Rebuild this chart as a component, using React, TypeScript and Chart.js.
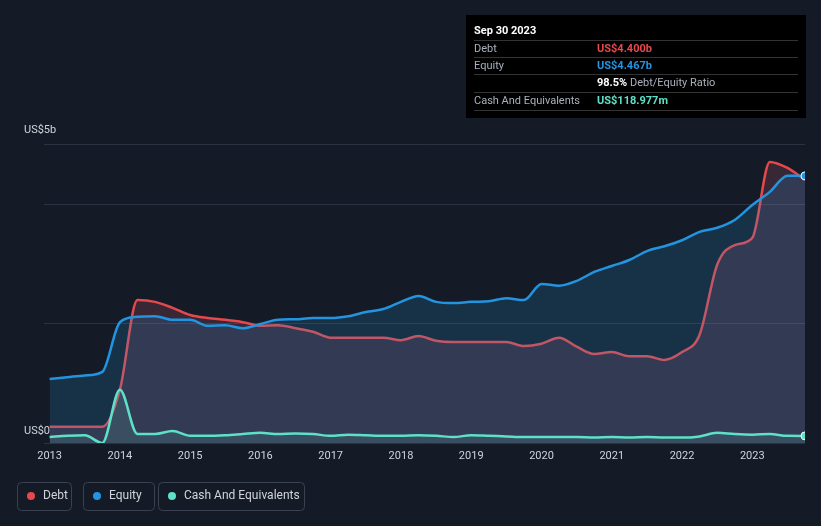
import React, { useEffect, useRef } from "react";
import { Chart, registerables } from "chart.js";
Chart.register(...registerables);

const quarters: number[] = Array.from({ length: 44 }, (_, i) => 2013 + i * 0.25);
const debt = [0.27,0.27,0.27,0.27,0.89,2.39,2.36,2.26,2.14,2.09,2.06,2.02,1.96,1.97,1.92,1.86,1.76,1.76,1.76,1.76,1.72,1.79,1.71,1.69,1.69,1.69,1.69,1.62,1.66,1.76,1.61,1.49,1.52,1.45,1.45,1.39,1.52,1.81,2.98,3.31,3.43,4.70,4.60,4.40];
const equity = [1.07,1.1,1.13,1.19,2.02,2.11,2.12,2.06,2.06,1.96,1.97,1.92,1.99,2.06,2.07,2.09,2.09,2.12,2.19,2.24,2.36,2.46,2.36,2.34,2.36,2.37,2.42,2.39,2.66,2.63,2.71,2.86,2.96,3.06,3.21,3.29,3.39,3.53,3.60,3.73,3.98,4.20,4.47,4.467];
const cash = [0.1,0.12,0.13,0.0,0.89,0.15,0.15,0.2,0.12,0.12,0.13,0.15,0.17,0.15,0.16,0.15,0.12,0.14,0.13,0.12,0.12,0.13,0.12,0.1,0.13,0.12,0.11,0.1,0.1,0.1,0.1,0.09,0.1,0.09,0.1,0.09,0.09,0.11,0.17,0.15,0.14,0.15,0.12,0.119];
const yearTicks = [2013,2014,2015,2016,2017,2018,2019,2020,2021,2022,2023];

const RED = "#e5484d", BLUE = "#2394df", TEAL = "#5fe0c8";
const FONT = "Roboto, 'Open Sans', sans-serif";

const overlay = {
  id: "overlay",
  beforeDatasetsDraw(chart: any) {
    const { ctx, scales: { x, y }, chartArea: a } = chart;
    ctx.save();
    ctx.strokeStyle = "#2c3240"; ctx.lineWidth = 1;
    [0, 2, 4, 5].forEach(v => { const py = Math.round(y.getPixelForValue(v)) + 0.5; ctx.beginPath(); ctx.moveTo(a.left, py); ctx.lineTo(a.right, py); ctx.stroke(); });
    ctx.restore();
  },
  afterDraw(chart: any) {
    const { ctx, scales: { x, y } } = chart;
    ctx.save();
    ctx.font = `11px ${FONT}`; ctx.fillStyle = "#d0d4dc"; ctx.textBaseline = "middle";
    ctx.textAlign = "left";
    ctx.fillText("US$5b", 24, 130); ctx.fillText("US$0", 24, 431);
    ctx.textAlign = "center";
    yearTicks.forEach(t => ctx.fillText(String(t), x.getPixelForValue(t), 456));
    // tooltip box
    ctx.fillStyle = "#000"; ctx.fillRect(466, 15, 340, 103);
    ctx.textAlign = "left"; ctx.fillStyle = "#fff"; ctx.font = `bold 11px ${FONT}`;
    ctx.fillText("Sep 30 2023", 474, 31);
    ctx.strokeStyle = "#333"; ctx.lineWidth = 1;
    [40, 57, 74, 92, 110].forEach(py => { ctx.beginPath(); ctx.moveTo(474, py + 0.5); ctx.lineTo(798, py + 0.5); ctx.stroke(); });
    ctx.font = `11px ${FONT}`;
    const rows: [string, string, string][] = [["Debt", "US$4.400b", RED], ["Equity", "US$4.467b", BLUE], ["", "", ""], ["Cash And Equivalents", "US$118.977m", TEAL]];
    const ys = [49, 66, 83, 101];
    rows.forEach((r, i) => {
      ctx.fillStyle = "#aab0bb"; ctx.fillText(r[0], 474, ys[i]);
      ctx.font = `bold 11px ${FONT}`; ctx.fillStyle = r[2]; ctx.fillText(r[1], 597, ys[i]); ctx.font = `11px ${FONT}`;
    });
    ctx.font = `bold 11px ${FONT}`; ctx.fillStyle = "#fff"; ctx.fillText("98.5%", 597, 83);
    const w = ctx.measureText("98.5% ").width;
    ctx.font = `11px ${FONT}`; ctx.fillStyle = "#aab0bb"; ctx.fillText("Debt/Equity Ratio", 597 + w, 83);
    // legend
    const leg: [string, string, number, number][] = [["Debt", RED, 17, 54], ["Equity", BLUE, 83, 71], ["Cash And Equivalents", TEAL, 158, 146]];
    ctx.font = `12px ${FONT}`;
    leg.forEach(([t, c, lx, lw]) => {
      ctx.strokeStyle = "#3a4150"; ctx.lineWidth = 1;
      ctx.beginPath(); (ctx as any).roundRect(lx + 0.5, 482.5, lw, 28, 4); ctx.stroke();
      ctx.fillStyle = c; ctx.beginPath(); ctx.arc(lx + 14, 496, 4, 0, Math.PI * 2); ctx.fill();
      ctx.fillStyle = "#d0d4dc"; ctx.fillText(t, lx + 26, 496);
    });
    ctx.restore();
  },
};

export default function App() {
  const ref = useRef<HTMLCanvasElement>(null);
  useEffect(() => {
    document.body.style.margin = "0";
    document.body.style.background = "#151b26";
    const lastR = (c: any) => (c.dataIndex === quarters.length - 1 ? 4 : 0);
    const mk = (label: string, data: number[], color: string, fill: string) => ({
      label, data: quarters.map((q, i) => ({ x: q, y: data[i] })), borderColor: color, backgroundColor: fill,
      fill: "origin", borderWidth: 2.5, cubicInterpolationMode: "monotone" as const,
      pointRadius: label === "Debt" ? 0 : lastR, pointBackgroundColor: color, pointBorderColor: "#fff", pointBorderWidth: 1,
    });
    const chart = new Chart(ref.current!, {
      type: "line",
      data: { datasets: [mk("Cash", cash, TEAL, "rgba(95,224,200,0.12)"), mk("Equity", equity, BLUE, "rgba(35,148,223,0.18)"), mk("Debt", debt, RED, "rgba(200,90,110,0.2)")] as any },
      options: {
        responsive: false, animation: false,
        layout: { padding: { left: 44, right: 16, top: 144, bottom: 83 } },
        plugins: { legend: { display: false }, tooltip: { enabled: false } },
        scales: {
          x: { type: "linear", min: 2012.92, max: 2023.75, display: false },
          y: { min: 0, max: 5, display: false },
        },
      },
      plugins: [overlay],
    });
    return () => chart.destroy();
  }, []);
  return <canvas ref={ref} width={821} height={526} style={{ display: "block" }} />;
}
